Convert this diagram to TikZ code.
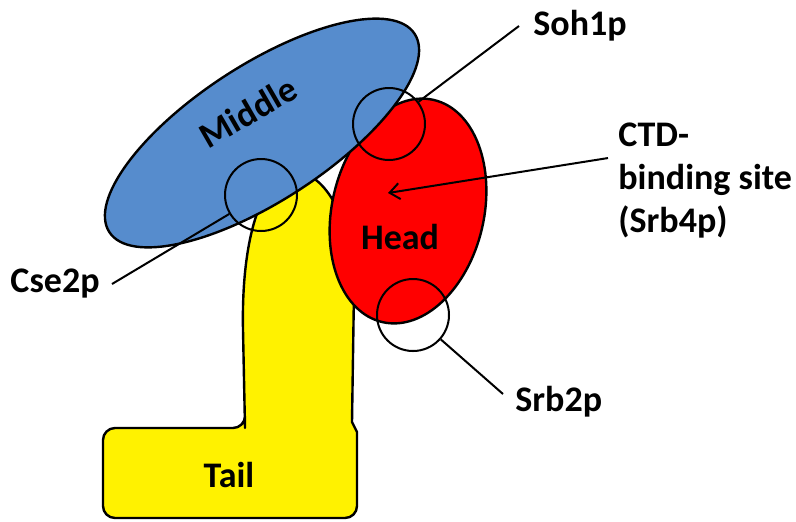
\documentclass[tikz,border=0pt]{standalone}
\usepackage{fontspec}
\setmainfont{Carlito}
\usepackage{tikz}
\usetikzlibrary{arrows.meta, shapes.geometric}

\definecolor{midblue}{RGB}{86,140,205}

\begin{document}
\begin{tikzpicture}[
            x=0.5pt, y=-0.5pt,
            part/.style={ellipse, draw, line width=1.2pt, inner sep=0pt},
            site/.style={circle, draw, line width=1pt, minimum size=36pt, inner sep=0pt},
            tag/.style={font=\bfseries\fontsize{18pt}{21.5pt}\selectfont, inner sep=6pt},
            >={Straight Barb[length=5pt,width=8pt]}]

        \useasboundingbox (0,0) rectangle (796,521);

        % tail
        \draw[fill=yellow, line width=1.2pt, line join=round]
            (245,428) -- (243,330) .. controls (241,230) and (265,172) .. (295,172)
            .. controls (325,172) and (353,220) .. (354,290) -- (352,422) -- (357,432) -- (357,440)
            [rounded corners=6pt] -- (357,518) -- (103,518) -- (103,428) -- (245,428) [sharp corners] -- cycle;
        \node[tag] (T) at (229,475) {Tail};

        % head and middle
        \node[part, fill=red, minimum width=76pt, minimum height=114pt, rotate=-13] (H) at (408,211) {};
        \node[part, fill=midblue, minimum width=182pt, minimum height=68pt, rotate=33] (M) at (262,133) {};
        \node[tag] (HL) at (400,237) {Head};
        \node[tag, rotate=30] (ML) at (248,112) {Middle};

        % subunit sites
        \node[site] (Soh) at (389,124) {};
        \node[site] (Cse) at (261,195) {};
        \node[site] (Srb) at (413,315) {};
        \coordinate (CTD) at (388,193);

        \node[tag, anchor=west, inner sep=0pt] (SohL) at (533,26) {Soh1p};
        \node[tag, anchor=east, inner sep=0pt] (CseL) at (100,284) {Cse2p};
        \node[tag, anchor=west, inner sep=0pt] (SrbL) at (515,402) {Srb2p};
        \node[tag, anchor=north west, align=left, inner sep=0pt] (CTDL) at (618,122) {CTD-\\binding site\\(Srb4p)};

        \draw[line width=1pt] ([xshift=-7pt]SohL.west) -- (Soh);
        \draw[line width=1pt] ([xshift=6pt]CseL.east) -- (Cse);
        \draw[line width=1pt] ([xshift=-6pt,yshift=4pt]SrbL.west) -- (Srb);
        \draw[->, line width=1pt] ([xshift=-5pt,yshift=11pt]CTDL.west) -- (CTD);

    \end{tikzpicture}
\end{document}
